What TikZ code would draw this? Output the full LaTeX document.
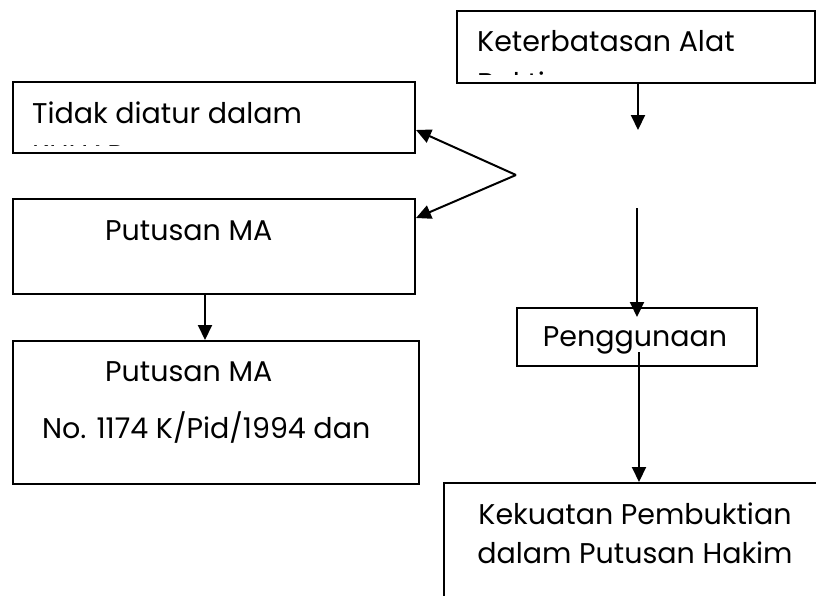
\documentclass[tikz,border=0pt]{standalone}
\usepackage{fontspec}
\setmainfont{Poppins}
\usetikzlibrary{arrows.meta}
\begin{document}
\begin{tikzpicture}[x=1pt,y=-1pt,
  box/.style={draw,line width=2pt,inner sep=0pt,anchor=north west},
  lbl/.style={inner sep=0pt,font=\fontsize{28.5}{34}\selectfont},
  arr/.style={line width=2pt,-{Triangle[length=15pt,width=14pt]}}]
\useasboundingbox (0,0) rectangle (816,595);
\clip (0,0) rectangle (816,595);

% boxes
\node[box,minimum width=358pt,minimum height=72pt] (K) at (456,10) {};
\node[box,minimum width=402pt,minimum height=71pt] (T) at (12,81) {};
\node[box,minimum width=402pt,minimum height=95pt] (P1) at (12,198) {};
\node[box,minimum width=406pt,minimum height=143pt] (P2) at (12,340) {};
\node[box,minimum width=240pt,minimum height=58pt] (G) at (516,307) {};
\node[box,minimum width=400pt,minimum height=140pt] (E) at (443,482) {};

% texts (clipped where the original cuts them)
\begin{scope}
  \clip (K.north west) rectangle ([yshift=10pt]K.south east);
  \node[lbl,anchor=base west] (Kt1) at (477,51) {Keterbatasan Alat};
  \node[lbl,anchor=base west] (Kt2) at (477,93) {Bukti};
\end{scope}
\begin{scope}
  \clip (T.north west) rectangle ([yshift=9pt]T.south east);
  \node[lbl,anchor=base west] (Tt1) at (32,123) {Tidak diatur dalam};
  \node[lbl,anchor=base west] (Tt2) at (32,165) {KUHAP};
\end{scope}
\node[lbl,anchor=base west] (P1t) at (105,240) {Putusan MA};
\node[lbl,anchor=base west] (P2t1) at (105,381) {Putusan MA};
\node[lbl,anchor=base west] (P2t2) at (42,438) {No. 1174 K/Pid/1994 dan};
\node[lbl,anchor=base] (Gt) at (635,346) {Penggunaan};
\node[lbl,anchor=base] (Et1) at (635,524) {Kekuatan Pembuktian};
\node[lbl,anchor=base] (Et2) at (635,563) {dalam Putusan Hakim};

% connectors
\coordinate (fork) at (516,175);
\coordinate (gap) at (637,208);
\draw[arr] (fork) -- ([yshift=24pt]T.south east);
\draw[arr] (fork) -- ([yshift=-20pt]P1.north east);
\draw[arr] ([xshift=-9pt]P1.south) -- ([xshift=-9pt]P1.south |- P2.north);
\draw[arr] ([xshift=2pt]K.south) -- ++(0,46);
\draw[arr] (gap) -- (gap |- 0,317);
\draw[arr] ([yshift=15pt,xshift=2pt]G.south) -- ([xshift=2pt]G.south |- E.north);
\end{tikzpicture}
\end{document}
